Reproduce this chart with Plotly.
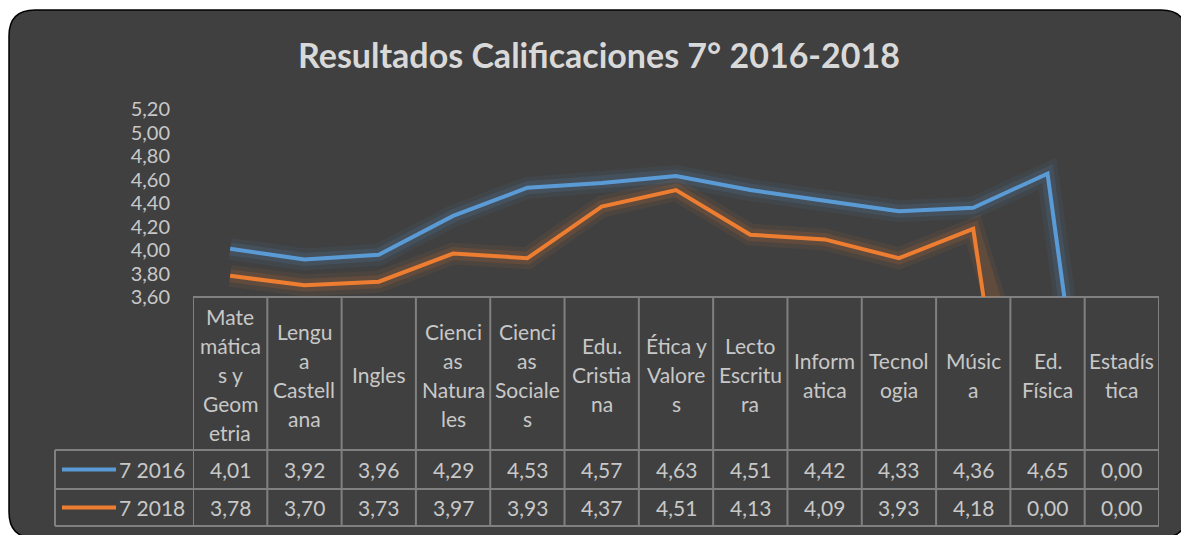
import plotly.graph_objects as go

# ---------------- data ----------------
categories = [
    "Mate<br>mática<br>s y<br>Geom<br>etria",
    "Lengu<br>a<br>Castell<br>ana",
    "Ingles",
    "Cienci<br>as<br>Natura<br>les",
    "Cienci<br>as<br>Sociale<br>s",
    "Edu.<br>Cristia<br>na",
    "Ética y<br>Valore<br>s",
    "Lecto<br>Escritu<br>ra",
    "Inform<br>atica",
    "Tecnol<br>ogia",
    "Músic<br>a",
    "Ed.<br>Física",
    "Estadís<br>tica",
]
series_names = ["7 2016", "7 2018"]
values_2016 = [4.01, 3.92, 3.96, 4.29, 4.53, 4.57, 4.63, 4.51, 4.42, 4.33, 4.36, 4.65, 0.00]
values_2018 = [3.78, 3.70, 3.73, 3.97, 3.93, 4.37, 4.51, 4.13, 4.09, 3.93, 4.18, 0.00, 0.00]
y_ticks = [3.60, 3.80, 4.00, 4.20, 4.40, 4.60, 4.80, 5.00, 5.20]
title_text = "Resultados Calificaciones 7° 2016-2018"

# ---------------- style ----------------
W, H = 1189, 535
OX, OY = 8, 8          # page body margin offset
BG = "#404040"
TXT = "#C8C8C8"
GRID = "#808080"
FONT = "Lato"
colors = ["#5B9BD5", "#ED7D31"]
glow = ["rgba(91,155,213,", "rgba(237,125,49,"]


def px(x):
    return (x - OX) / W


def py(y):
    return 1 - (y - OY) / H


n = len(categories)
x_idx = list(range(n))

fig = go.Figure()

for vals, name, c, g in zip([values_2016, values_2018], series_names, colors, glow):
    for wdt, op in [(22, 0.07), (13, 0.13)]:
        fig.add_trace(go.Scatter(x=x_idx, y=vals, mode="lines",
                                 line=dict(color=g + f"{op})", width=wdt),
                                 hoverinfo="skip", showlegend=False))
    fig.add_trace(go.Scatter(x=x_idx, y=vals, mode="lines", name=name,
                             line=dict(color=c, width=4), showlegend=False))

shapes = []
# rounded background box
x0, x1, y0, y1 = px(9), px(1187), py(10), py(538)
rx, ry = 26 / W, 26 / H
path = (f"M {x0+rx},{y0} L {x1-rx},{y0} Q {x1},{y0} {x1},{y0-ry} "
        f"L {x1},{y1+ry} Q {x1},{y1} {x1-rx},{y1} L {x0+rx},{y1} "
        f"Q {x0},{y1} {x0},{y1+ry} L {x0},{y0-ry} Q {x0},{y0} {x0+rx},{y0} Z")
shapes.append(dict(type="path", xref="paper", yref="paper", path=path,
                   fillcolor=BG, line=dict(color="#000000", width=1.5), layer="below"))

# table geometry (pixel rows)
top, head_bot, r1_bot, r2_bot = 297, 450, 489, 526
leg_left = 55
lw = dict(color=GRID, width=2)
shapes.append(dict(type="line", xref="x", yref="paper", x0=-0.5, x1=n - 0.5,
                   y0=py(top), y1=py(top), line=lw, layer="below"))
for yy in [head_bot, r1_bot, r2_bot]:
    shapes.append(dict(type="line", xref="paper", yref="paper", x0=px(leg_left), x1=px(1159),
                       y0=py(yy), y1=py(yy), line=lw, layer="below"))
for i in range(n + 1):
    shapes.append(dict(type="line", xref="x", yref="paper", x0=i - 0.5, x1=i - 0.5,
                       y0=py(top), y1=py(r2_bot), line=lw, layer="below"))
shapes.append(dict(type="line", xref="paper", yref="paper", x0=px(leg_left), x1=px(leg_left),
                   y0=py(head_bot), y1=py(r2_bot), line=lw, layer="below"))

annotations = []
line_h = 29
hc = (top + head_bot) / 2 + 1
for i, lab in enumerate(categories):
    parts = lab.split("<br>")
    k = len(parts)
    for j, p in enumerate(parts):
        yy = hc + (j - (k - 1) / 2) * line_h
        annotations.append(dict(x=i, xref="x", y=py(yy), yref="paper", text=p,
                                showarrow=False, xanchor="center", yanchor="middle",
                                font=dict(family=FONT, size=21, color=TXT)))

row_centers = [(head_bot + r1_bot) / 2, (r1_bot + r2_bot) / 2]
for vals, name, c, rc in zip([values_2016, values_2018], series_names, colors, row_centers):
    for i, v in enumerate(vals):
        annotations.append(dict(x=i, xref="x", y=py(rc), yref="paper",
                                text=f"{v:.2f}".replace(".", ","), showarrow=False,
                                xanchor="center", yanchor="middle",
                                font=dict(family=FONT, size=21, color=TXT)))
    annotations.append(dict(x=px(187), xref="paper", y=py(rc), yref="paper", text=name,
                            showarrow=False, xanchor="right", yanchor="middle",
                            font=dict(family=FONT, size=21, color=TXT)))
    shapes.append(dict(type="line", xref="paper", yref="paper", x0=px(62), x1=px(116),
                       y0=py(rc), y1=py(rc), line=dict(color=c, width=4)))

annotations.append(dict(x=px(599), xref="paper", y=py(55), yref="paper", text=f"<b>{title_text}</b>",
                        showarrow=False, xanchor="center", yanchor="middle",
                        font=dict(family=FONT, size=34, color="#D9D9D9")))

fig.update_layout(
    width=W, height=H, autosize=False,
    margin=dict(l=0, r=0, t=0, b=0, pad=0, autoexpand=False),
    paper_bgcolor="#FFFFFF",
    plot_bgcolor="rgba(0,0,0,0)",
    separators=",.",
    showlegend=False,
    shapes=shapes,
    annotations=annotations,
    xaxis=dict(domain=[px(193), px(1159)], range=[-0.5, n - 0.5], showticklabels=False,
               showgrid=False, zeroline=False, showline=False, fixedrange=True, automargin=False),
    yaxis=dict(domain=[py(297), py(109)], range=[3.6, 5.2], tickvals=y_ticks, tickformat=".2f",
               showgrid=False, zeroline=False, showline=False, ticks="",
               ticklabelstandoff=22, automargin=False,
               tickfont=dict(family=FONT, size=20, color=TXT), fixedrange=True),
)

fig.write_html("out.html")
